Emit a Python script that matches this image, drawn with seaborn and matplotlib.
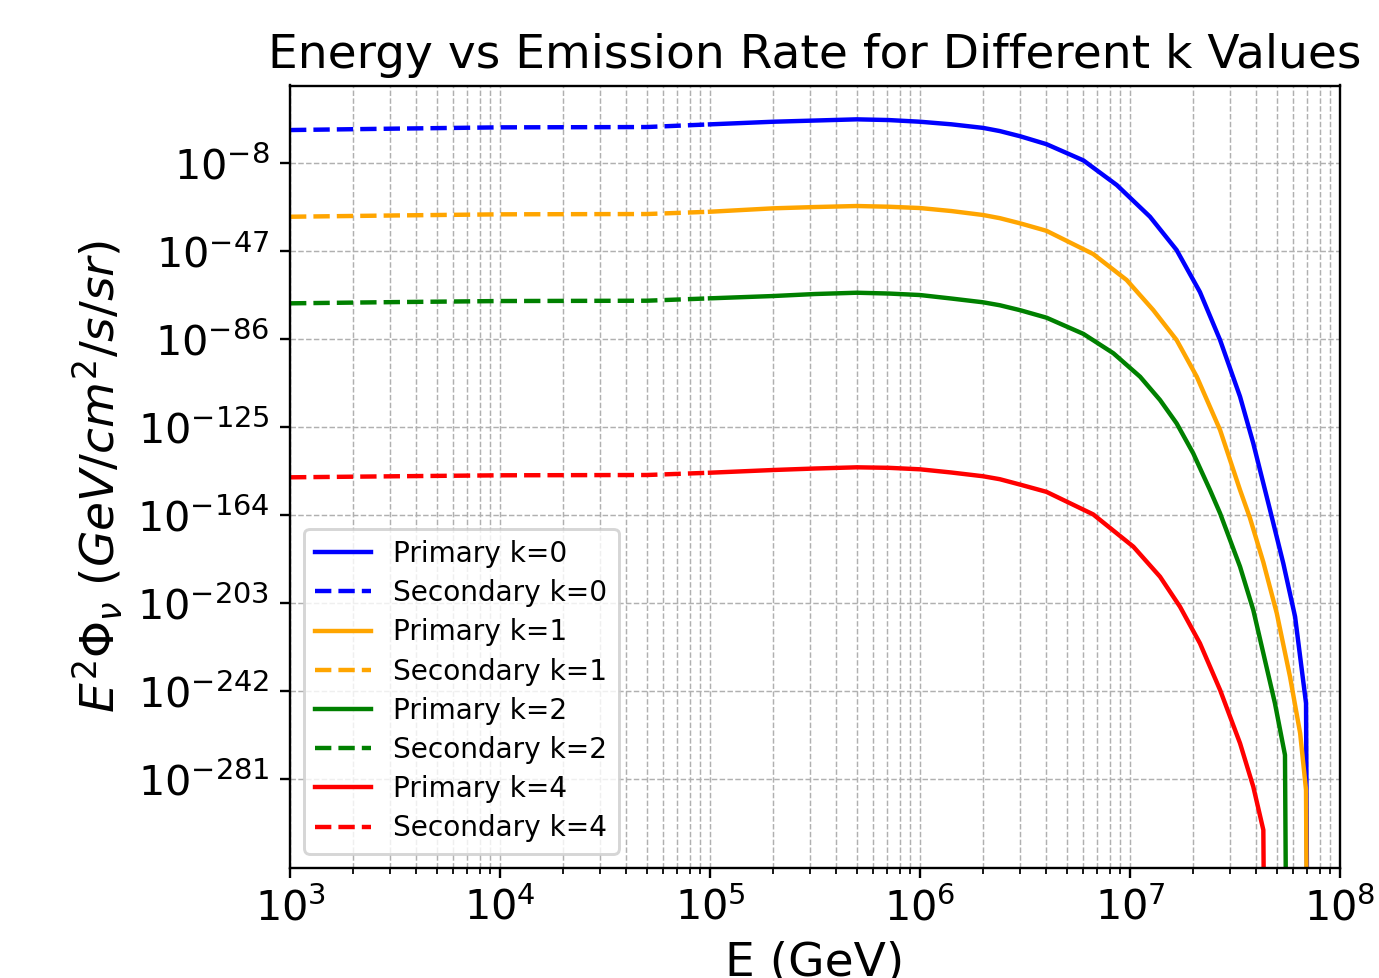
import numpy as np
import pandas as pd
import matplotlib
matplotlib.use("Agg")
import matplotlib.pyplot as plt
import seaborn as sns
from matplotlib.ticker import NullLocator, FixedLocator, LogFormatterSciNotation

# ---------------- data (flux given as log10 values; -inf = flux dropped to zero) -------------
k_values = [0, 1, 2, 4]
colors = ["blue", "orange", "green", "red"]

# Secondary component (dashed), shared energy grid in GeV
sec_E = [1.0e3, 3.16e3, 1.0e4, 3.16e4, 5.0e4, 1.0e5]
sec_k0_log10 = [6.76, 7.38, 7.95, 8.04, 8.09, 9.28]
sec_k1_log10 = [-31.67, -31.10, -30.60, -30.50, -30.47, -29.45]
sec_k2_log10 = [-70.05, -69.50, -69.03, -68.93, -68.89, -67.83]
sec_k4_log10 = [-147.16, -146.70, -146.27, -146.17, -146.14, -145.12]

# Primary component (solid)
prim_k0_E = [1.0e5, 2.0e5, 3.16e5, 5.0e5, 7.08e5, 1.0e6, 1.41e6, 2.0e6, 2.4e6, 3.0e6,
             4.0e6, 6.0e6, 8.65e6, 1.245e7, 1.667e7, 2.153e7, 2.685e7, 3.342e7,
             3.864e7, 4.395e7, 4.645e7, 5.37e7, 6.11e7, 6.89e7, 7.6e7]
prim_k0_log10 = [9.28, 10.44, 10.97, 11.5, 11.19, 10.44, 9.3, 7.7, 6.3, 4.0,
                 0.5, -6.7, -17.62, -31.67, -46.42, -65.04, -86.31, -111.4,
                 -132.1, -152.8, -161.7, -185.3, -208.9, -247.3, -np.inf]

prim_k1_E = [1.0e5, 2.0e5, 3.16e5, 5.0e5, 7.08e5, 1.0e6, 1.41e6, 2.0e6, 2.4e6, 3.0e6,
             4.0e6, 6.68e6, 9.64e6, 1.29e7, 1.667e7, 2.08e7, 2.685e7, 3.342e7,
             3.72e7, 4.315e7, 5.0e7, 5.78e7, 6.46e7, 6.89e7, 7.6e7]
prim_k1_log10 = [-29.45, -27.94, -27.37, -26.92, -27.23, -27.81, -29.14, -30.91, -32.3, -34.6,
                 -37.9, -48.2, -59.72, -73.01, -86.31, -102.58, -126.2, -152.79,
                 -165.0, -184.8, -207.43, -235.53, -260.6, -285.7, -np.inf]

prim_k2_E = [1.0e5, 2.0e5, 3.16e5, 5.0e5, 7.08e5, 1.0e6, 1.41e6, 2.0e6, 2.4e6, 3.0e6,
             4.0e6, 6.0e6, 8.34e6, 1.117e7, 1.39e7, 1.667e7, 2.0e7, 2.404e7, 2.685e7,
             3.342e7, 3.864e7, 4.315e7, 4.9e7, 5.47e7, 6.16e7]
prim_k2_log10 = [-67.83, -66.81, -65.92, -65.35, -65.7, -66.37, -67.92, -69.6, -70.9, -73.1,
                 -76.4, -83.6, -92.2, -102.58, -112.9, -123.23, -136.52, -152.79, -163.11,
                 -186.78, -205.97, -225.16, -247.32, -270.23, -np.inf]

prim_k4_E = [1.0e5, 2.0e5, 3.16e5, 5.0e5, 7.08e5, 1.0e6, 1.41e6, 2.0e6, 2.4e6, 3.0e6,
             4.0e6, 6.68e6, 1.038e7, 1.39e7, 1.73e7, 2.153e7, 2.685e7, 3.342e7,
             3.864e7, 4.315e7, 4.9e7]
prim_k4_log10 = [-145.12, -143.92, -143.26, -142.73, -142.95, -143.61, -145.03, -146.7, -148.0, -150.4,
                 -153.6, -163.6, -177.92, -191.21, -204.51, -220.73, -241.42, -265.05,
                 -284.28, -303.47, -np.inf]

y_tick_exponents = [-8, -47, -86, -125, -164, -203, -242, -281]

primary = [(prim_k0_E, prim_k0_log10), (prim_k1_E, prim_k1_log10),
           (prim_k2_E, prim_k2_log10), (prim_k4_E, prim_k4_log10)]
secondary = [sec_k0_log10, sec_k1_log10, sec_k2_log10, sec_k4_log10]

# ---------------- figure ----------------
W, H, DPI = 1379, 978, 212
fig = plt.figure(figsize=(W / DPI, H / DPI), dpi=DPI)
ax = fig.add_axes([290 / W, 1 - 867.5 / H, (1340 - 290) / W, (867.5 - 85.5) / H])

for k, c, (pE, pL), sL in zip(k_values, colors, primary, secondary):
    dfp = pd.DataFrame({"E": pE, "F": 10.0 ** np.array(pL)})
    dfs = pd.DataFrame({"E": sec_E, "F": 10.0 ** np.array(sL)})
    sns.lineplot(data=dfp, x="E", y="F", ax=ax, color=c, linestyle="-",
                 linewidth=1.5, estimator=None, label=f"Primary k={k}")
    sns.lineplot(data=dfs, x="E", y="F", ax=ax, color=c, linestyle="--",
                 linewidth=1.5, estimator=None, label=f"Secondary k={k}")

ax.set_xscale("log")
ax.set_yscale("log", nonpositive="clip")
ax.set_xlim(1e3, 1e8)
ax.set_ylim(10.0 ** -320.1, 10.0 ** 26.5)

ax.yaxis.set_major_locator(FixedLocator([10.0 ** e for e in y_tick_exponents]))
ax.yaxis.set_major_formatter(LogFormatterSciNotation())
ax.yaxis.set_minor_locator(NullLocator())

ax.grid(True, which="both", linestyle="--", linewidth=0.5)
ax.tick_params(axis="both", which="major", labelsize=14)

ax.set_title("Energy vs Emission Rate for Different k Values", fontsize=16)
ax.set_xlabel("E (GeV)", fontsize=16)
ax.set_ylabel(r"$E^2\Phi_{\nu}\ (GeV/cm^2/s/sr)$", fontsize=16)

ax.legend(loc="lower left", fontsize=9.5, labelspacing=0.4)

fig.savefig("out.png", dpi=DPI)
